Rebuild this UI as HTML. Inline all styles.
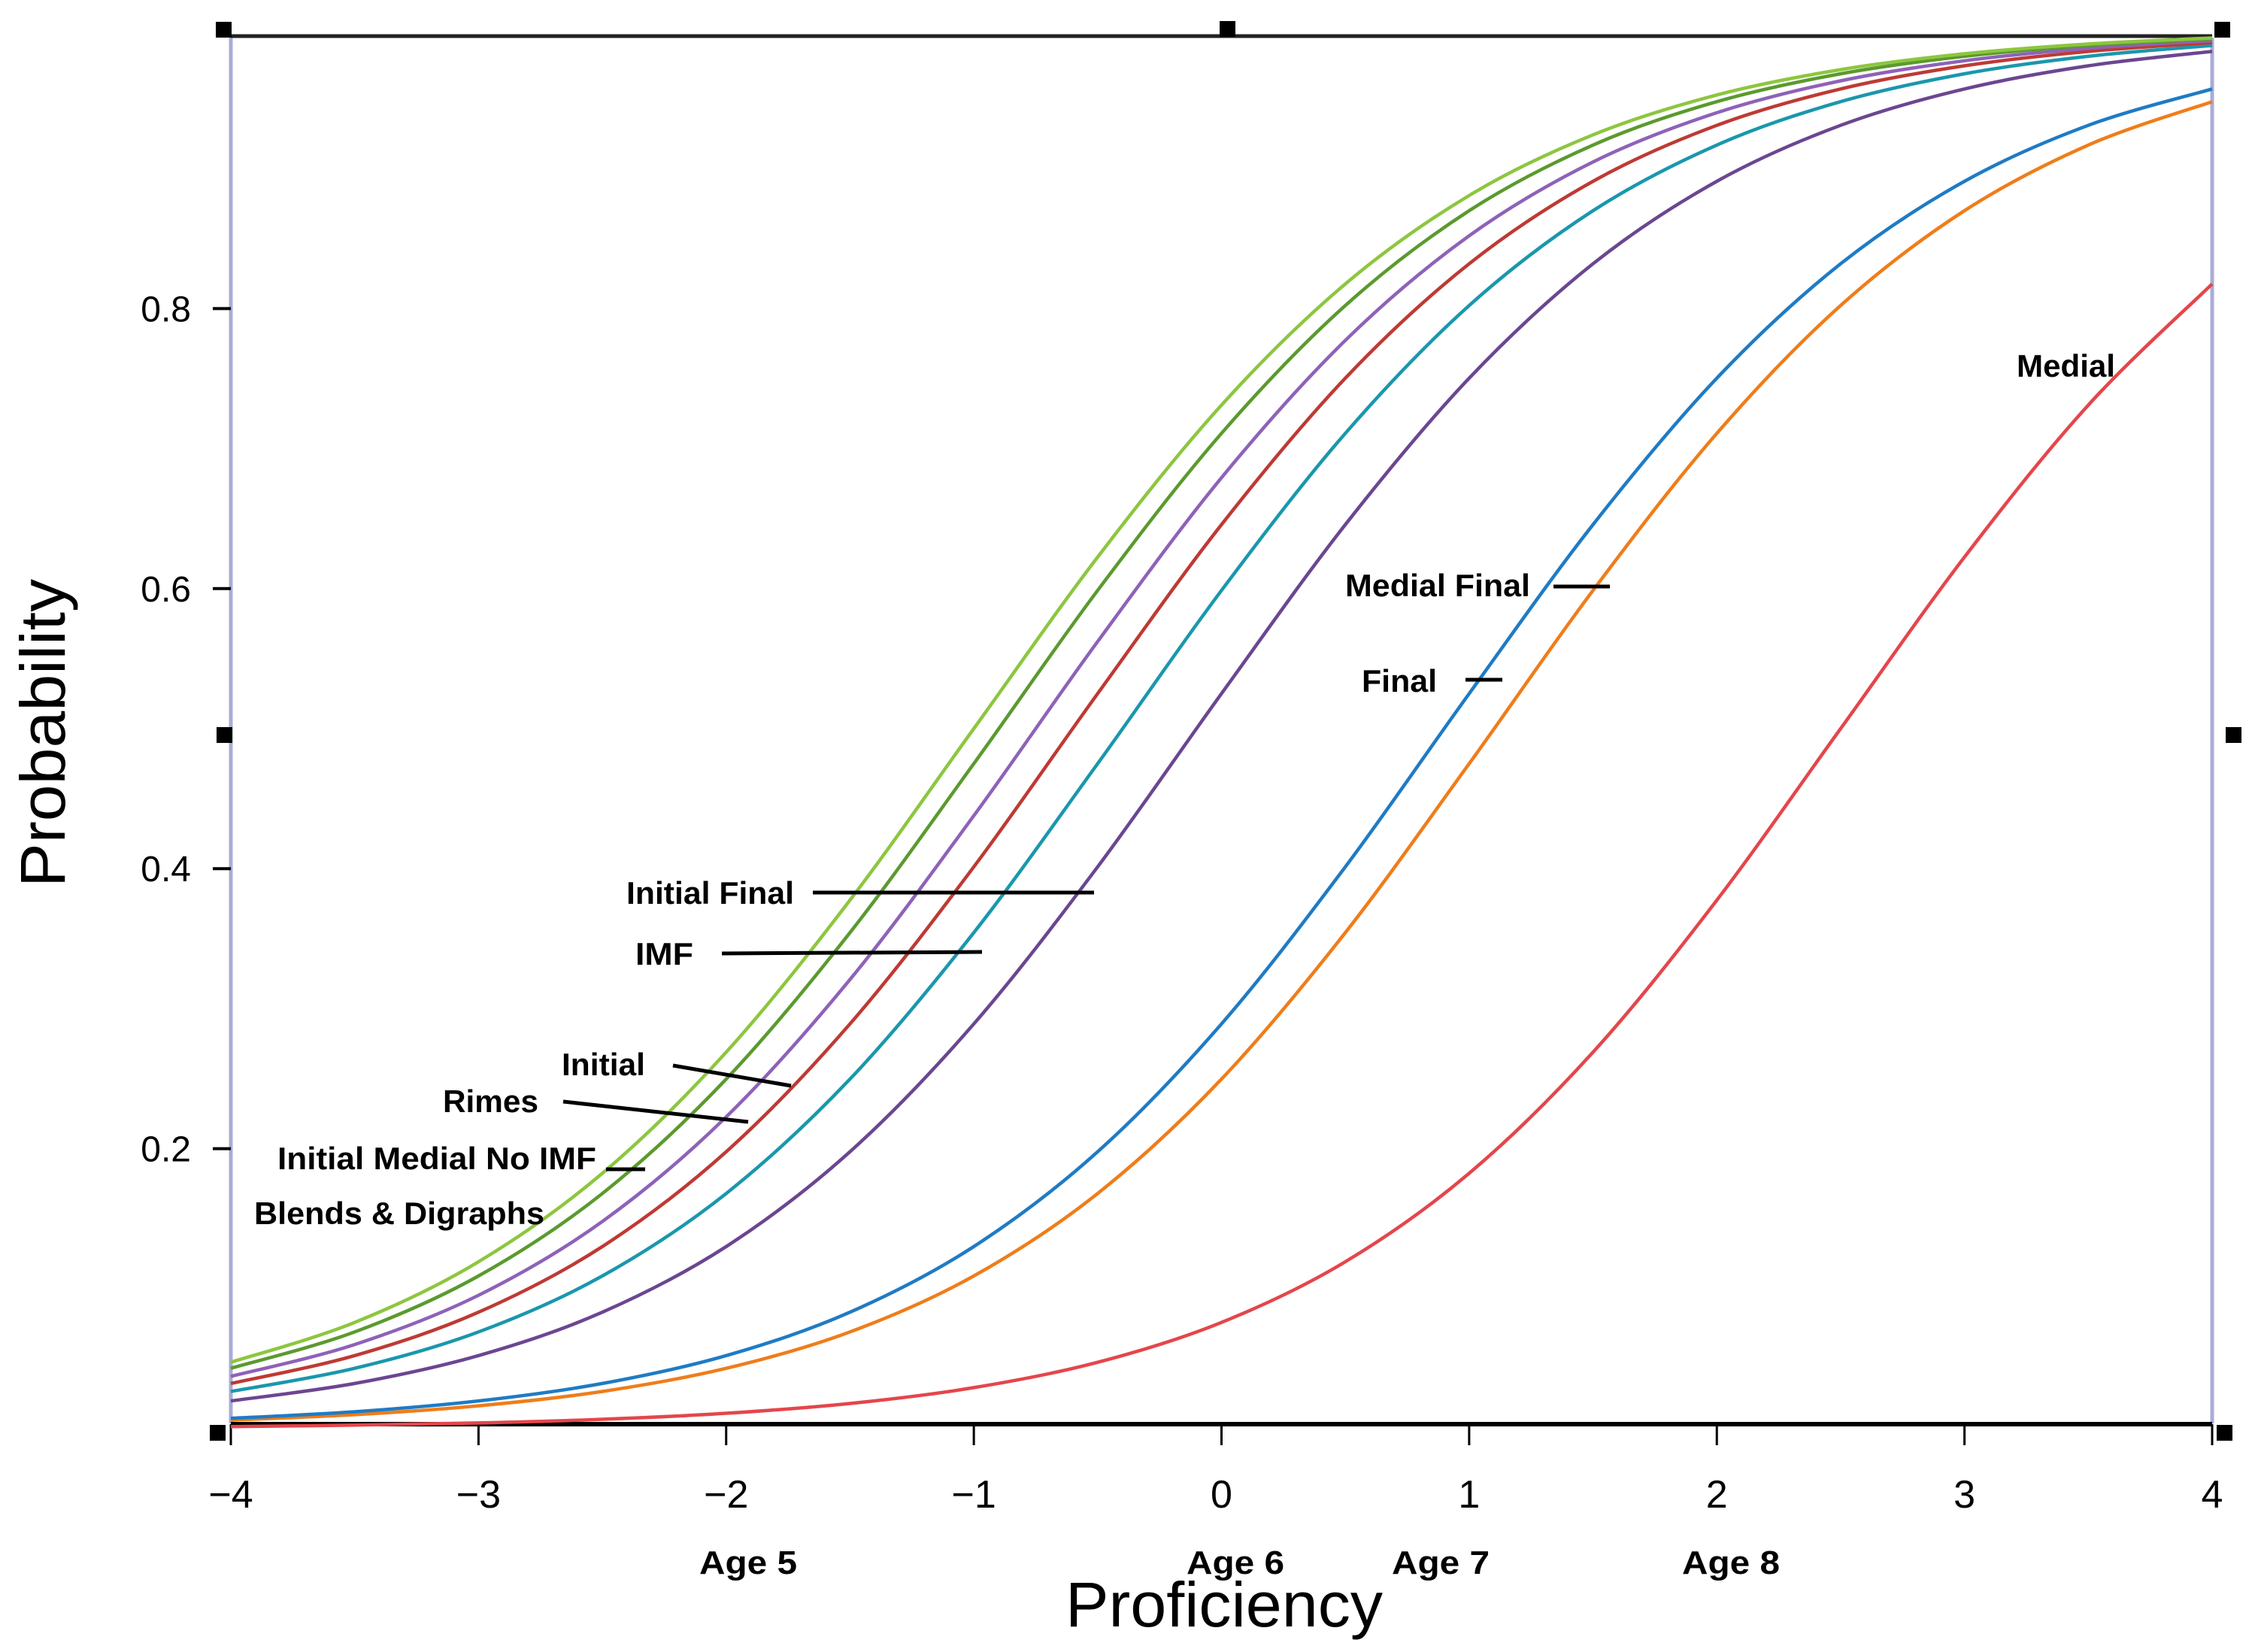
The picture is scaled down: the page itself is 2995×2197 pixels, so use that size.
<!DOCTYPE html>
<html><head><meta charset="utf-8"><style>
html,body{margin:0;padding:0;background:#fff;}
svg{display:block;}
text{font-family:"Liberation Sans",Arial,sans-serif;}
</style></head><body>
<svg id="chart" width="2995" height="2197" viewBox="0 0 2995 2197" xmlns="http://www.w3.org/2000/svg">
<g id="axes"></g>
<g id="curves"></g>
<g id="labels"></g>
</svg>
<script>
// ---- data ----
const xGrid = [-4,-3.5,-3,-2.5,-2,-1.5,-1,-0.5,0,0.5,1,1.5,2,2.5,3,3.5,4];
const seriesNames = ["medial","final","medial-final","blends-digraphs","initial-medial-no-imf","rimes","initial","imf","initial-final"];
const colors = ["#e4464b","#ef7d1a","#1f7bc4","#6b4691","#1a97ad","#be3a34","#8e62b8","#5b9a2e","#8dc63f"];
const medialVals = [.0015,.0025,.0041,.0067,.0110,.0180,.0293,.0474,.0759,.1192,.1824,.2689,.3775,.5,.6225,.7311,.8176];
const finalVals = [.0061,.0100,.0163,.0266,.0431,.0691,.1091,.1680,.2497,.3543,.4750,.5987,.7109,.8022,.8699,.9168,.9478];
const medialFinalVals = [.0074,.0121,.0198,.0323,.0522,.0832,.1301,.1978,.2891,.4013,.5250,.6457,.7503,.8320,.8909,.9309,.9569];
const blendsVals = [.0198,.0323,.0522,.0832,.1301,.1978,.2891,.4013,.5250,.6457,.7503,.8320,.8909,.9309,.9569,.9734,.9837];
const imNoImfVals = [.0266,.0431,.0691,.1091,.1680,.2497,.3543,.4750,.5987,.7109,.8022,.8699,.9168,.9478,.9677,.9802,.9879];
const rimesVals = [.0323,.0522,.0832,.1301,.1978,.2891,.4013,.5250,.6457,.7503,.8320,.8909,.9309,.9569,.9734,.9837,.9900];
const initialVals = [.0373,.0601,.0953,.1480,.2227,.3208,.4378,.5622,.6792,.7773,.8520,.9047,.9399,.9627,.9770,.9859,.9914];
const imfVals = [.0431,.0691,.1091,.1680,.2497,.3543,.4750,.5987,.7109,.8022,.8699,.9168,.9478,.9677,.9802,.9879,.9926];
const initialFinalVals = [.0474,.0759,.1192,.1824,.2689,.3775,.5,.6225,.7311,.8176,.8808,.9241,.9526,.9707,.9820,.9890,.9933];
const xTicks = [-4,-3,-2,-1,0,1,2,3,4];
const xTickLabels = ["\u22124","\u22123","\u22122","\u22121","0","1","2","3","4"];
const yTicks = [0.2,0.4,0.6,0.8];
const yTickLabels = ["0.2","0.4","0.6","0.8"];

const allVals = [medialVals,finalVals,medialFinalVals,blendsVals,imNoImfVals,rimesVals,initialVals,imfVals,initialFinalVals];

// ---- scales ----
const X0=307, X1=2942, Y0=1900, YH=1862;
function sx(v){return X0+(v+4)/8*(X1-X0);}
function sy(p){return Y0-p*YH;}
const NS="http://www.w3.org/2000/svg";
function mk(tag,attrs,parent){const e=document.createElementNS(NS,tag);for(const k in attrs)e.setAttribute(k,attrs[k]);parent.appendChild(e);return e;}

const axes=document.getElementById('axes');
// frame
let l=mk('line',{x1:X0,y1:50,x2:X0,y2:1893,stroke:'#a9acd6','stroke-width':5},axes);


l=mk('line',{x1:X1,y1:50,x2:X1,y2:1893,stroke:'#a9acd6','stroke-width':5},axes);


l=mk('line',{x1:X0,y1:48,x2:X1,y2:48,stroke:'#222','stroke-width':5},axes);


l=mk('line',{x1:X0,y1:1894,x2:X1,y2:1894,stroke:'#000','stroke-width':6},axes);


// corner markers
[[287,29],[1622,28],[288,967],[2945,29],[2960,967],[279,1895],[2948,1895]].forEach(function(m){
  const r=mk('rect',{x:m[0],y:m[1],width:21,height:21,fill:'#000'},axes);
  
  
});
// x ticks
xTicks.forEach(function(v,i){
  const t=mk('line',{x1:sx(v),y1:1894,x2:sx(v),y2:1922,stroke:'#000','stroke-width':3},axes);
  
  
  const tx=mk('text',{x:sx(v),y:2005,'font-size':52,'text-anchor':'middle',fill:'#000'},axes);
  tx.textContent=xTickLabels[i];
  
  
});
// y ticks
yTicks.forEach(function(v,i){
  const t=mk('line',{x1:283,y1:sy(v),x2:X0,y2:sy(v),stroke:'#000','stroke-width':4},axes);
  
  
  const tx=mk('text',{x:254,y:sy(v)+17,'font-size':48,'text-anchor':'end',fill:'#000'},axes);
  tx.textContent=yTickLabels[i];
  
  
});

// ---- curves ----
const cg=document.getElementById('curves');
allVals.forEach(function(vals,s){
  const pts=xGrid.map(function(x,i){return [sx(x),sy(vals[i])];});
  let d='M'+pts[0][0].toFixed(1)+','+pts[0][1].toFixed(1);
  for(let i=0;i<pts.length-1;i++){
    const p0=pts[Math.max(0,i-1)],p1=pts[i],p2=pts[i+1],p3=pts[Math.min(pts.length-1,i+2)];
    const c1=[p1[0]+(p2[0]-p0[0])/6,p1[1]+(p2[1]-p0[1])/6];
    const c2=[p2[0]-(p3[0]-p1[0])/6,p2[1]-(p3[1]-p1[1])/6];
    d+=' C'+c1[0].toFixed(1)+','+c1[1].toFixed(1)+' '+c2[0].toFixed(1)+','+c2[1].toFixed(1)+' '+p2[0].toFixed(1)+','+p2[1].toFixed(1);
  }
  const p=mk('path',{d:d,fill:'none',stroke:colors[s],'stroke-width':4.5},cg);
  
  
});

// ---- annotations ----
const lg=document.getElementById('labels');
const ann=[
 ["Initial Final",833,1202,223,[1081,1187,1455,1187]],
 ["IMF",845,1283,77,[960,1268,1306,1266]],
 ["Initial",747,1430,111,[895,1417,1052,1444]],
 ["Rimes",589,1479,127,[749,1465,995,1492]],
 ["Initial Medial  No IMF",369,1555,424,[806,1555,858,1555]],
 ["Blends & Digraphs",338,1628,386,null],
 ["Medial Final",1789,793,246,[2066,780,2141,780]],
 ["Final",1811,920,100,[1949,904,1998,904]],
 ["Medial",2682,501,131,null]
];
ann.forEach(function(a){
  const t=mk('text',{x:a[1],y:a[2],'font-size':42,'font-weight':'bold',textLength:a[3],lengthAdjust:'spacingAndGlyphs',fill:'#000'},lg);
  t.textContent=a[0];
  
  
  if(a[4]){
    const ln=mk('line',{x1:a[4][0],y1:a[4][1],x2:a[4][2],y2:a[4][3],stroke:'#000','stroke-width':5},lg);
    
    
  }
});
const ages=[["Age 5",995],["Age 6",1643],["Age 7",1916],["Age 8",2302]];
ages.forEach(function(a){
  const t=mk('text',{x:a[1],y:2093,'font-size':44,'font-weight':'bold','text-anchor':'middle',textLength:130,lengthAdjust:'spacingAndGlyphs',fill:'#000'},lg);
  t.textContent=a[0];
  
  
});
let xt=mk('text',{x:1628,y:2163,'font-size':84,'text-anchor':'middle',textLength:422,lengthAdjust:'spacingAndGlyphs',fill:'#000'},lg);
xt.textContent="Proficiency";


let yt=mk('text',{x:0,y:0,'font-size':84,'text-anchor':'middle',textLength:410,lengthAdjust:'spacingAndGlyphs',fill:'#000',transform:'translate(86,975) rotate(-90)'},lg);
yt.textContent="Probability";


</script>
</body></html>
